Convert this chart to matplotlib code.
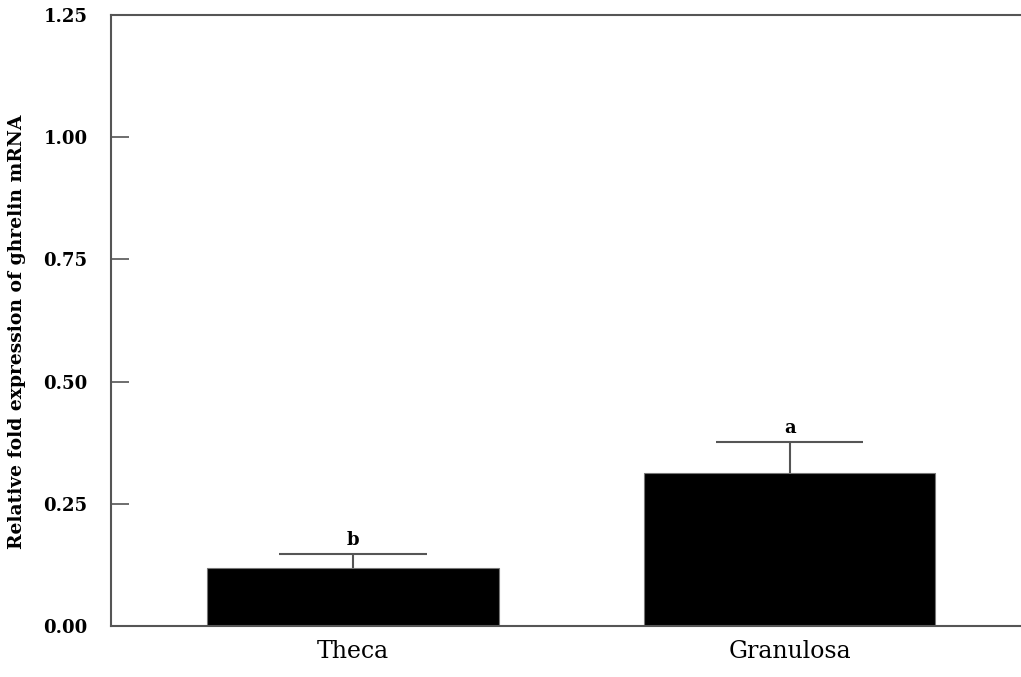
import matplotlib
matplotlib.use("Agg")
import matplotlib.pyplot as plt

categories = ["Theca", "Granulosa"]
means = [0.119, 0.313]
errors = [0.029, 0.064]
letters = ["b", "a"]
yticks = [0.00, 0.25, 0.50, 0.75, 1.00, 1.25]
ytick_labels = ["0.00", "0.25", "0.50", "0.75", "1.00", "1.25"]

plt.rcParams['font.family'] = ['DejaVu Serif']

fig = plt.figure(figsize=(10.21, 6.77), dpi=100)
ax = fig.add_axes([111/1021, 1 - 626/677, 1 - 111/1021, (626 - 15)/677])

x = list(range(len(categories)))
bar_w = 0.668
cap_half = 0.169
ax.bar(x, means, width=bar_w, color="black", edgecolor="#777777", linewidth=0.8, zorder=2)
tops = [m + e for m, e in zip(means, errors)]
ax.vlines(x, means, tops, color="#555555", linewidth=1.5, zorder=1)
ax.hlines(tops, [xi - cap_half for xi in x], [xi + cap_half for xi in x],
          color="#555555", linewidth=1.5, zorder=1)
for xi, t, l in zip(x, tops, letters):
    ax.text(xi, t + 0.01, l, ha="center", va="bottom", fontsize=13, fontweight="bold")

ax.set_xlim(-0.554, 1.53)
ax.set_ylim(0, 1.25)
ax.set_yticks(yticks)
ax.set_yticklabels(ytick_labels, fontsize=13, fontweight="bold")
ax.set_xticks(x)
ax.set_xticklabels(categories, fontsize=17)
ax.tick_params(axis="x", length=0, pad=10)
ax.tick_params(axis="y", direction="in", length=13, width=1.2, color="#555555", pad=17)
ax.set_ylabel("Relative fold expression of ghrelin mRNA", fontsize=13.5, fontweight="bold")
ax.yaxis.set_label_coords(-0.0935, 0.481)

for s in ["left", "bottom", "top"]:
    ax.spines[s].set_color("#555555")
    ax.spines[s].set_linewidth(1.5)
ax.spines["right"].set_visible(False)

fig.savefig("out.png", dpi=100)
